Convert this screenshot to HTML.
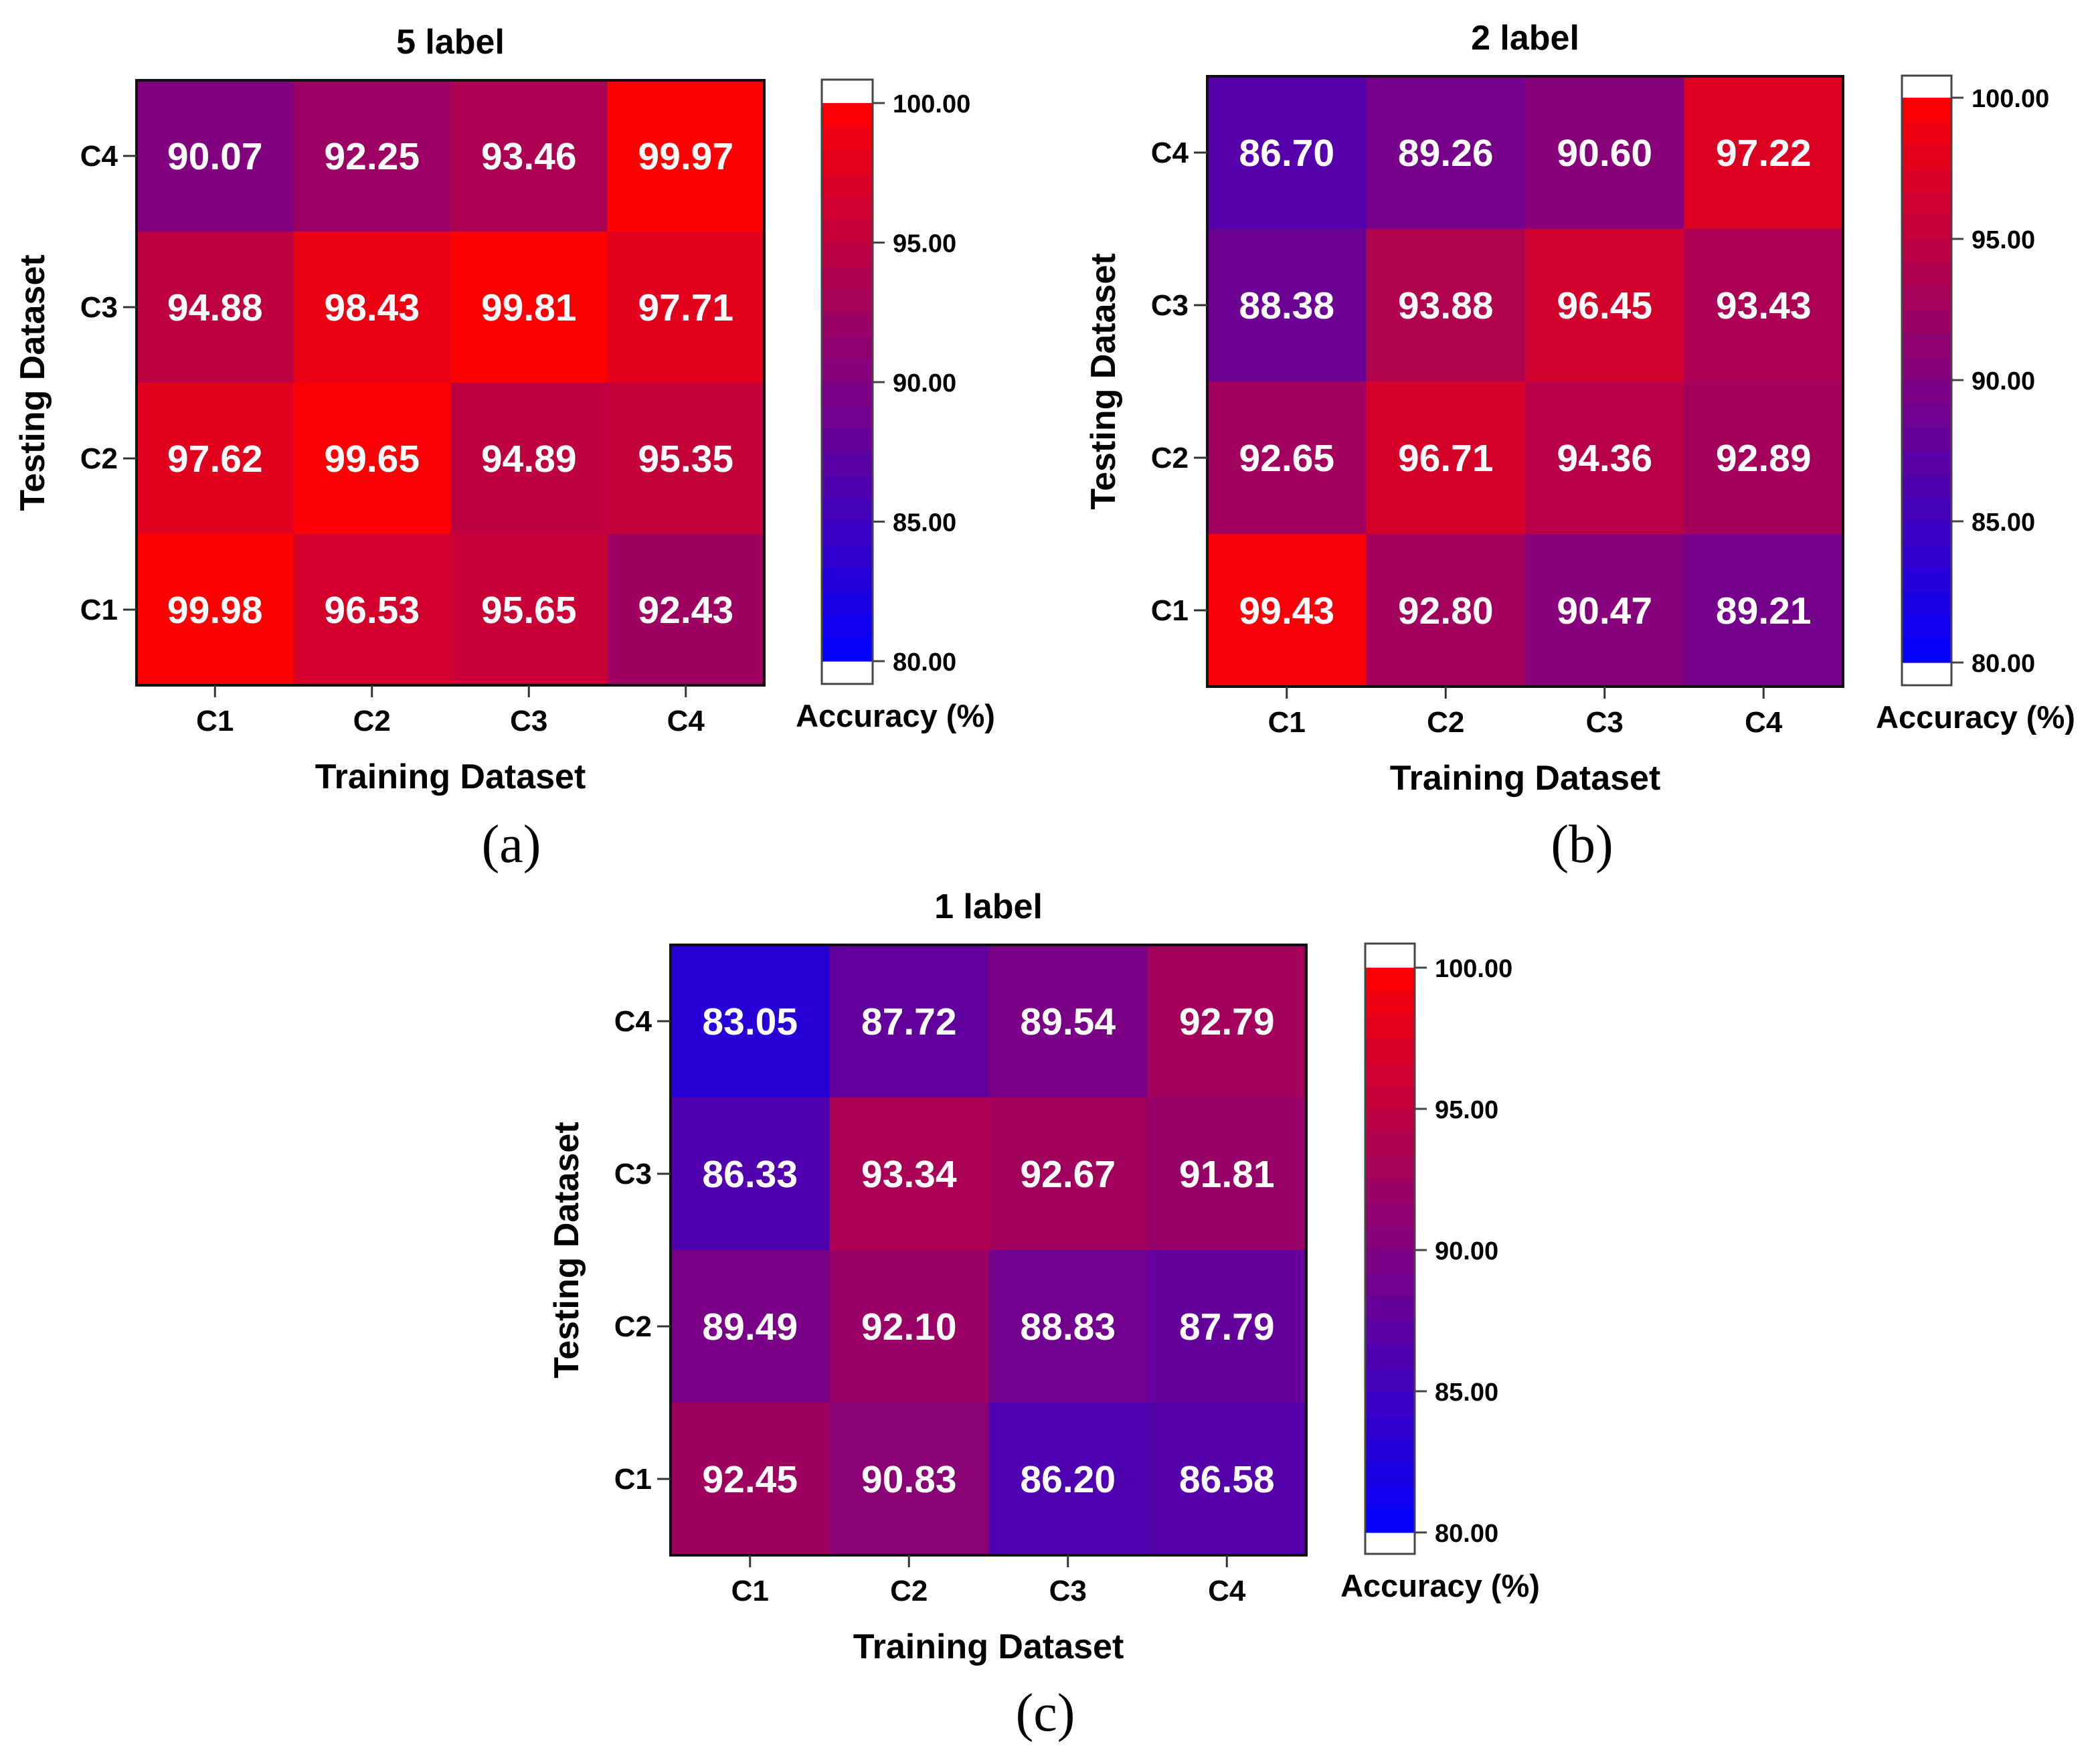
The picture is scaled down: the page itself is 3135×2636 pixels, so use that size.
<!DOCTYPE html>
<html><head><meta charset="utf-8"><style>
html,body{margin:0;padding:0;background:#fff}
svg{display:block}
text{font-family:"Liberation Sans",Arial,sans-serif}
</style></head><body>
<svg id="fig" width="3135" height="2636" viewBox="0 0 3135 2636" xmlns="http://www.w3.org/2000/svg"></svg>
<script>
const categories = ["C1","C2","C3","C4"];
const testRows = ["C4","C3","C2","C1"]; // top to bottom
const valuesA = [[90.07,92.25,93.46,99.97],[94.88,98.43,99.81,97.71],[97.62,99.65,94.89,95.35],[99.98,96.53,95.65,92.43]];
const valuesB = [[86.70,89.26,90.60,97.22],[88.38,93.88,96.45,93.43],[92.65,96.71,94.36,92.89],[99.43,92.80,90.47,89.21]];
const valuesC = [[83.05,87.72,89.54,92.79],[86.33,93.34,92.67,91.81],[89.49,92.10,88.83,87.79],[92.45,90.83,86.20,86.58]];
const cbTicks = [80,85,90,95,100];
const cbMin = 80, cbMax = 100;

const NS="http://www.w3.org/2000/svg";
const svg=document.getElementById('fig');
function mk(tag,attrs,parent,txt){const e=document.createElementNS(NS,tag);for(const k in attrs)e.setAttribute(k,attrs[k]);if(txt!==undefined)e.textContent=txt;(parent||svg).appendChild(e);return e;}
function color(v){let t=(v-cbMin)/(cbMax-cbMin);t=Math.max(0,Math.min(1,t));return `rgb(${Math.round(255*t)},0,${Math.round(255*(1-t))})`;}

function panel(p){
  const g=mk('g',{});
  
  
  const cw=(p.x1-p.x0)/4, ch=(p.y1-p.y0)/4;
  const xs=i=>p.x0+cw*i, ys=j=>p.y0+ch*j;
  p.vals.forEach((row,j)=>row.forEach((v,i)=>{
    const r=mk('rect',{x:xs(i),y:ys(j),width:cw+0.5,height:ch+0.5,fill:color(v)},g);
    
    
    const t=mk('text',{x:xs(i)+cw/2,y:ys(j)+ch/2+20,'text-anchor':'middle','font-size':57,'font-weight':'bold',fill:'#fff'},g,v.toFixed(2));
    
    
  }));
  const fr=mk('rect',{x:p.x0,y:p.y0,width:p.x1-p.x0,height:p.y1-p.y0,fill:'none',stroke:'#111','stroke-width':4},g);
  
  
  testRows.forEach((c,j)=>{
    const yc=ys(j)+ch/2;
    mk('line',{x1:p.x0-20,x2:p.x0,y1:yc,y2:yc,stroke:'#333','stroke-width':3},g);
    const t=mk('text',{x:p.x0-28,y:yc+15,'text-anchor':'end','font-size':44,'font-weight':'bold'},g,c);
    
    
  });
  categories.forEach((c,i)=>{
    const xc=xs(i)+cw/2;
    mk('line',{x1:xc,x2:xc,y1:p.y1,y2:p.y1+18,stroke:'#333','stroke-width':3},g);
    const t=mk('text',{x:xc,y:p.y1+68,'text-anchor':'middle','font-size':44,'font-weight':'bold'},g,c);
    
    
  });
  const tt=mk('text',{x:(p.x0+p.x1)/2,y:p.y0-40,'text-anchor':'middle','font-size':52,'font-weight':'bold'},g,p.title);
  
  
  const xt=mk('text',{x:(p.x0+p.x1)/2,y:p.y1+154,'text-anchor':'middle','font-size':52,'font-weight':'bold'},g,'Training Dataset');
  
  
  const ycx=p.x0-138, ycy=(p.y0+p.y1)/2;
  const yt=mk('text',{x:ycx,y:ycy,'text-anchor':'middle','font-size':52,'font-weight':'bold',transform:`rotate(-90 ${ycx} ${ycy})`},g,'Testing Dataset');
  
  
  // colorbar
  const cb=p.cb, cy=v=>cb.y100+(cbMax-v)*(cb.y80-cb.y100)/(cbMax-cbMin);
  const N=24;
  for(let k=0;k<N;k++){
    const v0=cbMin+k*(cbMax-cbMin)/N, v1=cbMin+(k+1)*(cbMax-cbMin)/N;
    const r=mk('rect',{x:cb.x0,y:cy(v1),width:cb.x1-cb.x0,height:cy(v0)-cy(v1)+0.6,fill:color((v0+v1)/2)},g);
    
    
  }
  const cf=mk('rect',{x:cb.x0,y:cb.top,width:cb.x1-cb.x0,height:cb.bot-cb.top,fill:'none',stroke:'#444','stroke-width':3},g);
  
  
  cbTicks.forEach(v=>{
    mk('line',{x1:cb.x1,x2:cb.x1+18,y1:cy(v),y2:cy(v),stroke:'#444','stroke-width':3},g);
    const t=mk('text',{x:cb.x1+30,y:cy(v)+14,'font-size':38,'font-weight':'bold'},g,v.toFixed(2));
    
    
  });
  const at=mk('text',{x:cb.labX,y:p.y1+62,'text-anchor':'middle','font-size':47,'font-weight':'bold'},g,'Accuracy (%)');
  
  
  const pl=mk('text',{x:p.capX,y:p.capY,'text-anchor':'middle','font-size':80,style:'font-family:"Liberation Serif",serif;font-weight:normal'},g,p.cap);
  
  
}

panel({id:'5-label',title:'5 label',vals:valuesA,x0:204,x1:1142,y0:120,y1:1024,
  cb:{x0:1228,x1:1304,top:119,bot:1022,y100:154,y80:988,labX:1338},cap:'(a)',capX:764,capY:1288});
panel({id:'2-label',title:'2 label',vals:valuesB,x0:1804,x1:2754,y0:114,y1:1026,
  cb:{x0:2842,x1:2916,top:113,bot:1024,y100:146,y80:990,labX:2952},cap:'(b)',capX:2364,capY:1288});
panel({id:'1-label',title:'1 label',vals:valuesC,x0:1002,x1:1952,y0:1412,y1:2324,
  cb:{x0:2040,x1:2114,top:1410,bot:2322,y100:1446,y80:2290,labX:2152},cap:'(c)',capX:1562,capY:2586});
</script>
</body></html>
